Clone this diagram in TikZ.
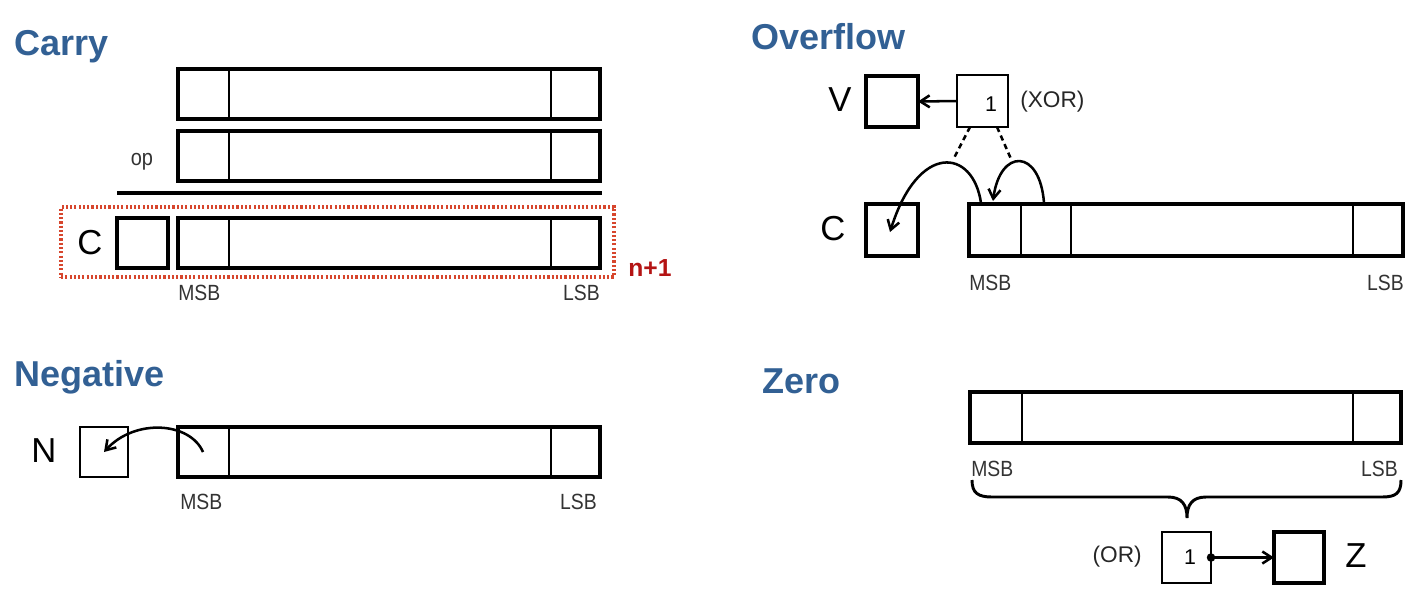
\documentclass[tikz,border=0pt]{standalone}
\usepackage{fontspec}
\setmainfont{Liberation Sans}
\newfontfamily\narrowsans[FakeStretch=0.88]{Liberation Sans}
\usetikzlibrary{arrows.meta,calc,fit}
\definecolor{titleblue}{RGB}{50,96,148}
\definecolor{dotred}{RGB}{215,70,45}
\definecolor{nred}{RGB}{180,20,20}
\tikzset{
  reg/.style={draw, line width=3.2pt, inner sep=0pt, outer sep=0pt},
  div/.style={line width=2.1pt},
  boxthick/.style={draw, line width=2.8pt, inner sep=0pt, outer sep=0pt},
  boxmed/.style={draw, line width=2.3pt, inner sep=0pt, outer sep=0pt},
  boxthin/.style={draw, line width=1.7pt, inner sep=0pt, outer sep=0pt},
  title/.style={font=\fontsize{27}{30}\selectfont\bfseries, text=titleblue, inner sep=0pt, anchor=base west},
  big/.style={font=\fontsize{26}{30}\selectfont, inner sep=0pt},
  small/.style={font=\narrowsans\fontsize{16.5}{18}\selectfont, inner sep=0pt, text=black!80},
  paren/.style={font=\fontsize{17}{19}\selectfont, inner sep=0pt, text=black!85},
  one/.style={font=\fontsize{16}{18}\selectfont, inner sep=0pt},
  arr/.style={line width=1.9pt, -{Straight Barb[length=7pt,width=9pt]}},
  dashline/.style={line width=1.9pt, dash pattern=on 4pt off 3pt},
}
\begin{document}
\begin{tikzpicture}[x=0.75pt,y=-0.75pt]
\useasboundingbox (0,0) rectangle (1416,597);

% ---------------- Carry ----------------
\node[title] (tcarry) at (14,55) {Carry};
\node[reg, fit={(178,69) (600,119)}] (cr1) {};
\node[reg, fit={(178,131) (600,181)}] (cr2) {};
\node[reg, fit={(178,218) (600,268)}] (cr3) {};
\foreach \r in {cr1,cr2,cr3}{
  \draw[div] ($(\r.north west)+(51,0)$) -- ($(\r.south west)+(51,0)$);
  \draw[div] ($(\r.north east)+(-49,0)$) -- ($(\r.south east)+(-49,0)$);
}
\node[font=\narrowsans\fontsize{17}{19}\selectfont, inner sep=0pt, text=black!80] (op) at (142,162) {op};
\coordinate (hrl) at (117,193);
\coordinate (hrr) at (602,193);
\draw[line width=3pt] (hrl) -- (hrr);
\node[boxthick, fit={(117,218) (168,268)}] (cbox) {};
\node[big] (clab) at (90,243) {C};
\node[draw=dotred, line width=2.5pt, dash pattern=on 1.6pt off 1.6pt, inner sep=0pt, fit={(61,207) (614,277)}] (dotrect) {};
\node[font=\fontsize{18.5}{20}\selectfont\bfseries, text=nred, inner sep=0pt] (np1) at (650,268) {n+1};
\node[small, anchor=west] (cmsb) at (178,293) {MSB};
\node[small, anchor=east] (clsb) at (600,293) {LSB};

% ---------------- Overflow ----------------
\node[title] (tover) at (751,49) {Overflow};
\node[boxthick, fit={(866,76) (918,127)}] (vbox) {};
\node[big] (vlab) at (840,100) {V};
\node[boxthin, fit={(957,75) (1008,127)}] (xorbox) {};
\node[one] (xone) at (991,104) {1};
\node[paren, anchor=west] (xorlab) at (1020,102) {(XOR)};
\draw[arr] (xorbox.west) -- (vbox.east);

\node[boxmed, fit={(866,204) (918,256)}] (ocbox) {};
\node[big] (oclab) at (833,229) {C};
\node[reg, fit={(969,204) (1403,256)}] (oreg) {};
\draw[div] ($(oreg.north west)+(52,0)$) -- ($(oreg.south west)+(52,0)$);
\draw[div] ($(oreg.north west)+(102,0)$) -- ($(oreg.south west)+(102,0)$);
\draw[div] ($(oreg.north east)+(-50,0)$) -- ($(oreg.south east)+(-50,0)$);
\node[small, anchor=west] (omsb) at (969,283) {MSB};
\node[small, anchor=east] (olsb) at (1404,283) {LSB};

\coordinate (la) at (981,203);
\coordinate (lb) at (890,232);
\coordinate (ra) at (1044,203);
\coordinate (rb) at (993,201);
\draw[arr] (la) .. controls (973,148) and (918,142) .. (lb);
\draw[arr] (ra) .. controls (1040,148) and (1000,148) .. (rb);
\coordinate (ld) at (954,158);
\coordinate (rd) at (1011,159);
\draw[dashline] ($(xorbox.south west)+(13,0)$) -- (ld);
\draw[dashline] ($(xorbox.south west)+(40,0)$) -- (rd);

% ---------------- Negative ----------------
\node[title] (tneg) at (14,386) {Negative};
\node[boxthin, line width=1.9pt, fit={(80,427) (128,477)}] (nbox) {};
\node[big] (nlab) at (44,451) {N};
\node[reg, fit={(178,427) (600,477)}] (nreg) {};
\draw[div] ($(nreg.north west)+(51,0)$) -- ($(nreg.south west)+(51,0)$);
\draw[div] ($(nreg.north east)+(-49,0)$) -- ($(nreg.south east)+(-49,0)$);
\node[small, anchor=west] (nmsb) at (180,502) {MSB};
\node[small, anchor=east] (nlsb) at (597,502) {LSB};
\coordinate (na) at (203,452);
\coordinate (nb) at (104,452);
\draw[arr] (na) .. controls (190,422) and (135,418) .. (nb);

% ---------------- Zero ----------------
\node[title] (tzero) at (762,393) {Zero};
\node[reg, fit={(970,392) (1401,443)}] (zreg) {};
\draw[div] ($(zreg.north west)+(52,0)$) -- ($(zreg.south west)+(52,0)$);
\draw[div] ($(zreg.north east)+(-48,0)$) -- ($(zreg.south east)+(-48,0)$);
\node[small, anchor=west] (zmsb) at (971,469) {MSB};
\node[small, anchor=east] (zlsb) at (1398,469) {LSB};
\draw[line width=2.2pt] (972,480) .. controls (972,493) and (978,497) .. (992,497)
  -- (1168,497) .. controls (1182,497) and (1187,505) .. (1187,518)
  .. controls (1187,505) and (1192,497) .. (1206,497)
  -- (1382,497) .. controls (1396,497) and (1401,493) .. (1401,480);
\node[boxthin, fit={(1162,532) (1211,583)}] (orbox) {};
\node[one] (oone) at (1190,557) {1};
\node[paren, anchor=east] (orlab) at (1142,557) {(OR)};
\node[boxmed, fit={(1274,532) (1324,583)}] (zbox) {};
\node[big] (zlab) at (1356,556) {Z};
\draw[arr] (orbox.east) -- (zbox.west);
\fill (orbox.east) circle[radius=3.2pt];
\end{tikzpicture}
\end{document}
